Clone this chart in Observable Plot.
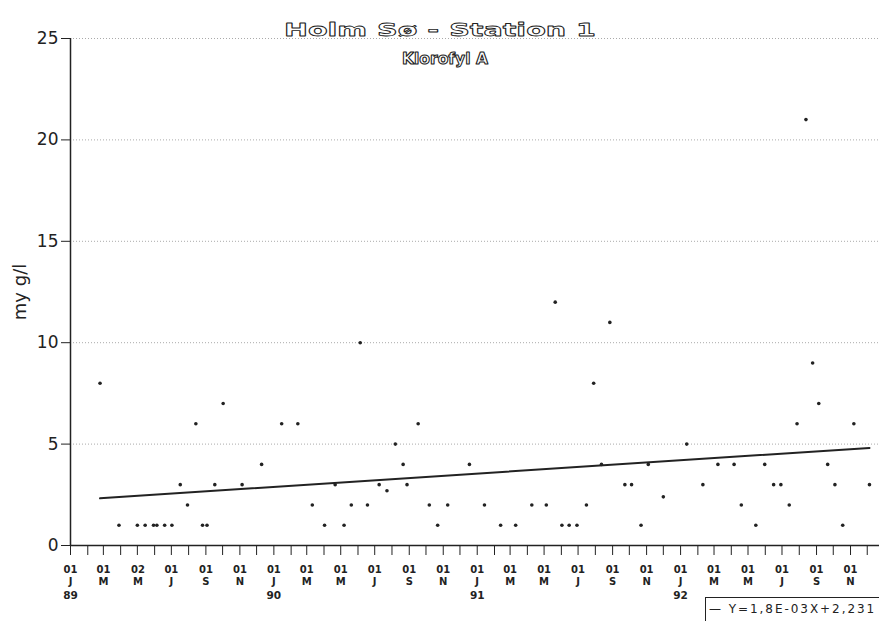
<!DOCTYPE html>
<html><head><meta charset="utf-8">
<script src="https://cdn.jsdelivr.net/npm/d3@7"></script>
<script src="https://cdn.jsdelivr.net/npm/@observablehq/plot@0.6"></script>
<style>
body{margin:0;background:#fff;}
#wrap{position:relative;width:879px;height:621px;}
#legend{position:absolute;left:705px;top:597px;width:174px;height:24px;border-top:1.5px solid #222;border-left:1.5px solid #222;box-sizing:border-box;font:12px "DejaVu Sans";letter-spacing:1.95px;color:#222;padding:4px 0 0 3px;white-space:nowrap;}
</style></head><body>
<div id="wrap"><div id="legend">— Y=1,8E-03X+2,231</div></div>
<script>
// Sample dates and chlorophyll A values (my g/l)
const sampleDates = [
 "1989-02-23","1989-03-29","1989-05-01","1989-05-15","1989-05-30","1989-06-05","1989-06-19","1989-07-02","1989-07-17","1989-07-30",
 "1989-08-14","1989-08-26","1989-09-03","1989-09-17","1989-10-02","1989-11-05","1989-12-10","1990-01-15","1990-02-13","1990-03-11",
 "1990-04-02","1990-04-21","1990-05-07","1990-05-20","1990-06-05","1990-06-18","1990-07-09","1990-07-23","1990-08-07","1990-08-21",
 "1990-08-28","1990-09-17","1990-10-07","1990-10-22","1990-11-09","1990-12-18","1991-01-14","1991-02-12","1991-03-11","1991-04-09",
 "1991-05-05","1991-05-21","1991-06-02","1991-06-15","1991-06-29","1991-07-16","1991-07-29","1991-08-12","1991-08-27","1991-09-23",
 "1991-10-05","1991-10-22","1991-11-04","1991-12-01","1992-01-12","1992-02-10","1992-03-08","1992-04-06","1992-04-19","1992-05-15",
 "1992-05-31","1992-06-16","1992-06-29","1992-07-14","1992-07-28","1992-08-13","1992-08-25","1992-09-05","1992-09-21","1992-10-04",
 "1992-10-18","1992-11-07","1992-12-05"
];
const chlorophyll = [
 8,1,1,1,1,1,1,1,3,2,
 6,1,1,3,7,3,4,6,6,2,
 1,3,1,2,10,2,3,2.7,5,4,
 3,6,2,1,2,4,2,1,1,2,
 2,12,1,1,1,2,8,4,11,3,
 3,1,4,2.4,5,3,4,4,2,1,
 4,3,3,2,6,21,9,7,4,3,
 1,6,3
];
const xDomain = ["1989-01-01", "1992-12-23"];
const yDomain = [0, 25];
const yTicks = [0, 5, 10, 15, 20, 25];
const gridValues = [5, 10, 15, 20, 25];
const tickLabelDates = [
 "1989-01-01","1989-03-01","1989-05-02","1989-07-01","1989-09-01","1989-11-01",
 "1990-01-01","1990-03-01","1990-05-01","1990-07-01","1990-09-01","1990-11-01",
 "1991-01-01","1991-03-01","1991-05-01","1991-07-01","1991-09-01","1991-11-01",
 "1992-01-01","1992-03-01","1992-05-01","1992-07-01","1992-09-01","1992-11-01"
];
const tickLabelDays = ["01","01","02","01","01","01","01","01","01","01","01","01","01","01","01","01","01","01","01","01","01","01","01","01"];
const tickLabelMonths = ["J","M","M","J","S","N","J","M","M","J","S","N","J","M","M","J","S","N","J","M","M","J","S","N"];
const tickLabelYears = ["89","","","","","","90","","","","","","91","","","","","","92","","","","",""];
const regSlope = 1.8e-3;
const regIntercept = 2.231;
const regOrigin = "1989-01-01";
const titleText = "Holm Sø - Station 1";
const subtitleText = "Klorofyl A";
const yLabel = "my g/l";

const data = sampleDates.map((d, i) => ({date: new Date(d), value: chlorophyll[i]}));
const origin = new Date(regOrigin);
const regression = [data[0].date, data[data.length - 1].date]
  .map(d => ({date: d, value: regIntercept + regSlope * ((d - origin) / 864e5)}));
const labels = tickLabelDates.map((d, i) => ({date: new Date(d), day: tickLabelDays[i], month: tickLabelMonths[i], year: tickLabelYears[i]}));
const xd = xDomain.map(d => new Date(d));
const months = d3.utcMonth.range(xd[0], xd[1]);

const ink = "#222";
const chart = Plot.plot({
  width: 879, height: 621,
  marginLeft: 70, marginRight: 0, marginTop: 38, marginBottom: 76,
  style: {fontFamily: "DejaVu Sans", fontSize: "15px", color: ink, background: "white", overflow: "visible"},
  x: {type: "utc", domain: xd},
  y: {domain: yDomain},
  marks: [
    Plot.ruleY(gridValues, {stroke: "#aaa", strokeDasharray: "1,2", strokeWidth: 1}),
    Plot.axisY({ticks: yTicks, tickSize: 9, tickPadding: 3, tickFormat: d => String(d), label: null, fontSize: 17, stroke: ink}),
    Plot.text([yLabel], {frameAnchor: "left", textAnchor: "middle", rotate: -90, dx: -45, lineAnchor: "bottom", fontSize: 18, fill: ink}),
    Plot.axisX({ticks: months, tickSize: 10, tickFormat: () => "", label: null, stroke: ink}),
    Plot.ruleY([yDomain[0]], {stroke: ink, strokeWidth: 1.5}),
    Plot.ruleX([xd[0]], {stroke: ink, strokeWidth: 1.5}),
    Plot.text(labels, {x: "date", text: "day", frameAnchor: "bottom", dy: 27, lineAnchor: "bottom", fontSize: 10, fontWeight: "bold", fill: ink}),
    Plot.text(labels, {x: "date", text: "month", frameAnchor: "bottom", dy: 39, lineAnchor: "bottom", fontSize: 10, fontWeight: "bold", fill: ink}),
    Plot.text(labels, {x: "date", text: "year", frameAnchor: "bottom", dy: 53, lineAnchor: "bottom", fontSize: 10.5, fontWeight: "bold", fill: ink}),
    Plot.lineY(regression, {x: "date", y: "value", stroke: ink, strokeWidth: 2}),
    Plot.dot(data, {x: "date", y: "value", r: 1.8, fill: ink}),
    Plot.text([titleText], {frameAnchor: "top", dx: -35, dy: -3, lineAnchor: "bottom", fontSize: 18.5, fontWeight: "bold", fill: "white", stroke: ink, strokeWidth: 0.8}),
    Plot.text([subtitleText], {frameAnchor: "top", dx: -30, dy: 25, lineAnchor: "bottom", fontSize: 16, fontWeight: "bold", fill: "white", stroke: ink, strokeWidth: 1.1})
  ]
});
d3.select(chart).selectAll("text").each(function() {
  const t = this.textContent;
  if (t === titleText) d3.select(this).attr("textLength", 312).attr("lengthAdjust", "spacingAndGlyphs").style("paint-order", "normal");
  if (t === subtitleText) d3.select(this).attr("textLength", 86).attr("lengthAdjust", "spacingAndGlyphs").style("paint-order", "normal");
});
document.getElementById("wrap").prepend(chart);
</script>
</body></html>
